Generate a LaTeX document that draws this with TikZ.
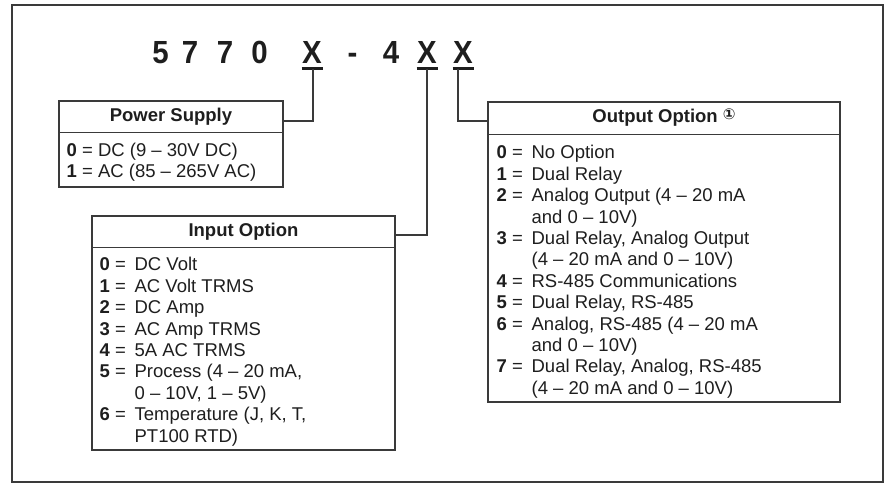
\documentclass[tikz,border=0pt]{standalone}
\usepackage{fontspec}
\setmainfont{Liberation Sans}
\newfontfamily\circfont{DejaVu Sans}
\usepackage{tikz}
\usetikzlibrary{positioning,calc}
\definecolor{lineGray}{HTML}{3A3A3A}
\definecolor{textBlack}{HTML}{1E1E1E}
\newcommand{\optnum}[1]{\makebox[35pt][l]{\textbf{#1} =}}
\newcommand{\circone}{{\circfont\fontsize{15}{15}\selectfont\raisebox{3pt}{①}}}

\begin{document}
\begin{tikzpicture}[x=1pt, y=-1pt, text=textBlack,
  optbox/.style={draw=lineGray, line width=1.1pt, inner sep=0pt},
  head/.style={font=\fontsize{18.5}{21.4}\selectfont\bfseries},
  body/.style={font=\fontsize{18.5}{21.4}\selectfont, inner sep=0pt, anchor=base west},
  codechar/.style={font=\fontsize{32}{32}\selectfont\bfseries, inner sep=0pt, anchor=base},
  tie/.style={draw=lineGray, line width=1.1pt},
  uline/.style={draw=textBlack, line width=3.2pt}]
\useasboundingbox (0,0) rectangle (886,485);
% frame
\draw[lineGray, line width=1.4pt] (12,5) rectangle (883,482);
% model code
\foreach \ch/\xc in {5/160.5, 7/190, 7/225, 0/259.5, -/352.5, 4/391}
  \node[codechar] at (\xc,63) {\scalebox{0.92}[1]{\ch}};
\node[codechar] (psX) at (312,63) {\scalebox{0.92}[1]{X}};
\node[codechar] (inX) at (427,63) {\scalebox{0.92}[1]{X}};
\node[codechar] (outX) at (463,63) {\scalebox{0.92}[1]{X}};
\foreach \n in {psX, inX, outX}
  \draw[uline] ($(\n.base)+(-10.5,5.5)$) -- ($(\n.base)+(10.5,5.5)$);
\coordinate (psT) at ($(psX.base)+(1,5.5)$);
\coordinate (inT) at ($(inX.base)+(0,5.5)$);
\coordinate (outT) at ($(outX.base)+(-5,5.5)$);

% Power Supply
\node[optbox, minimum width=224pt, minimum height=86pt] (ps) at (171,144) {};
\draw[tie] ($(ps.north west)+(0,32)$) -- ($(ps.north east)+(0,32)$);
\node[head] at ($(ps.north)+(0,16)$) {Power Supply};
\node[body] at ($(ps.north west)+(8,56)$) {\begin{tabular}[t]{@{}l@{}}
  \textbf{0} = DC (9 – 30V DC)\\
  \textbf{1} = AC (85 – 265V AC)
\end{tabular}};

% Input Option
\node[optbox, minimum width=303pt, minimum height=234pt] (in) at (243.5,333) {};
\draw[tie] ($(in.north west)+(0,32)$) -- ($(in.north east)+(0,32)$);
\node[head] at ($(in.north)+(0,16)$) {Input Option};
\node[body] at ($(in.north west)+(8,55.5)$) {\begin{tabular}[t]{@{}l@{}l@{}}
  \optnum{0} & DC Volt\\
  \optnum{1} & AC Volt TRMS\\
  \optnum{2} & DC Amp\\
  \optnum{3} & AC Amp TRMS\\
  \optnum{4} & 5A AC TRMS\\
  \optnum{5} & Process (4 – 20 mA,\\
             & 0 – 10V, 1 – 5V)\\
  \optnum{6} & Temperature (J, K, T,\\
             & PT100 RTD)
\end{tabular}};

% Output Option
\node[optbox, minimum width=352pt, minimum height=300pt] (out) at (664,252) {};
\draw[tie] ($(out.north west)+(0,33)$) -- ($(out.north east)+(0,33)$);
\node[head] at ($(out.north)+(0,16.5)$) {Output Option \circone};
\node[body] at ($(out.north west)+(9,57.5)$) {\begin{tabular}[t]{@{}l@{}l@{}}
  \optnum{0} & No Option\\
  \optnum{1} & Dual Relay\\
  \optnum{2} & Analog Output (4 – 20 mA\\
             & and 0 – 10V)\\
  \optnum{3} & Dual Relay, Analog Output\\
             & (4 – 20 mA and 0 – 10V)\\
  \optnum{4} & RS-485 Communications\\
  \optnum{5} & Dual Relay, RS-485\\
  \optnum{6} & Analog, RS-485 (4 – 20 mA\\
             & and 0 – 10V)\\
  \optnum{7} & Dual Relay, Analog, RS-485\\
             & (4 – 20 mA and 0 – 10V)
\end{tabular}};

% connectors
\draw[tie] (psT) |- (ps.east |- 0,121);
\draw[tie] (inT) |- (in.east |- 0,235);
\draw[tie] (outT) |- (out.west |- 0,121);
\end{tikzpicture}
\end{document}
